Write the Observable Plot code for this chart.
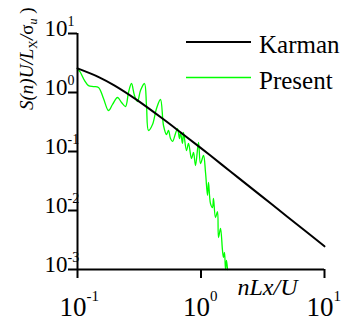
<!DOCTYPE html>
<html><head><meta charset="utf-8">
<script src="https://cdn.jsdelivr.net/npm/d3@7"></script>
<script src="https://cdn.jsdelivr.net/npm/@observablehq/plot@0.6"></script>
<style>html,body{margin:0;padding:0;background:#fff} svg{display:block}</style>
</head><body><div id="chart"></div>
<script>
// Karman spectrum
const karmanF = [0.1, 0.15, 0.2, 0.3, 0.5, 0.7, 1, 1.5, 2, 3, 5, 7, 10];
const karmanS = [2.56, 1.81, 1.31, 0.757, 0.348, 0.203, 0.114, 0.0582, 0.0361, 0.0184, 0.00786, 0.00449, 0.00247];

const presentF = [0.1, 0.1057, 0.1139, 0.1228, 0.1348, 0.1479, 0.1624, 0.1782, 0.192, 0.2108,
  0.2272, 0.2447, 0.2588, 0.2736, 0.2893, 0.306, 0.3236, 0.3486, 0.362, 0.3757,
  0.4049, 0.4362, 0.4699, 0.497, 0.5256, 0.5456, 0.5662, 0.5877, 0.6215, 0.6451,
  0.6697, 0.6823, 0.7082, 0.7215, 0.7633, 0.7923, 0.8377, 0.8696, 0.9027, 0.9546,
  0.991, 1.048, 1.088, 1.129, 1.15, 1.194, 1.239, 1.262, 1.31, 1.36,
  1.386, 1.439, 1.493, 1.521, 1.55, 1.579, 1.609, 1.639];
const presentS = [2.55, 2.18, 1.6, 1.31, 1.26, 1.22, 0.791, 0.495, 0.626, 0.823,
  0.677, 0.579, 1.0, 1.42, 0.89, 0.704, 1.08, 1.42, 0.602, 0.227,
  0.287, 0.536, 0.761, 0.276, 0.194, 0.227, 0.166, 0.148, 0.202, 0.245,
  0.166, 0.21, 0.137, 0.21, 0.104, 0.137, 0.0761, 0.0962, 0.0579, 0.142,
  0.0626, 0.0855, 0.0441, 0.018, 0.0298, 0.0131, 0.0112, 0.016, 0.0076, 0.0096,
  0.00348, 0.00496, 0.0021, 0.0016, 0.00194, 0.001, 0.00142, 0.001];

const xTicks = [0.1, 1, 10];
const xExp = ["-1", "0", "1"];
const yTicks = [0.001, 0.01, 0.1, 1, 10];
const yExp = ["-3", "-2", "-1", "0", "1"];
const seriesNames = ["Karman", "Present"];
const seriesColors = ["#000000", "#00ff00"];
const xLabel = "nLx/U";

const karman = karmanF.map((f, i) => ({f, s: karmanS[i]}));
const present = presentF.map((f, i) => ({f, s: presentS[i]}));

const serif = "Liberation Serif, Times New Roman, DejaVu Serif, serif";

const plot = Plot.plot({
  width: 342, height: 325,
  marginLeft: 77, marginRight: 18, marginTop: 33, marginBottom: 56,
  style: {fontFamily: serif, background: "white", color: "black", overflow: "visible"},
  x: {type: "log", domain: [0.1, 10]},
  y: {type: "log", domain: [0.001, 10]},
  marks: [
    Plot.axisX(xTicks, {tickSize: 9, strokeWidth: 2, tickFormat: () => "", label: null, stroke: "black"}),
    Plot.axisY(yTicks, {tickSize: 9, strokeWidth: 2, tickFormat: () => "", label: null, stroke: "black"}),
    Plot.line(present, {x: "f", y: "s", stroke: seriesColors[1], strokeWidth: 1.3, curve: "catmull-rom"}),
    Plot.line(karman, {x: "f", y: "s", stroke: seriesColors[0], strokeWidth: 2, curve: "catmull-rom"}),
    Plot.ruleX([0.1], {stroke: "black", strokeWidth: 2}),
    Plot.ruleY([0.001], {stroke: "black", strokeWidth: 2}),
    Plot.text(yTicks, {y: d => d, text: () => "10", frameAnchor: "left", textAnchor: "end", lineAnchor: "bottom", dx: -10, dy: 2, fontSize: 23, fontFamily: serif}),
    Plot.text(yTicks, {y: d => d, text: (d, i) => yExp[i], frameAnchor: "left", textAnchor: "start", lineAnchor: "bottom", dx: -10, dy: -8, fontSize: 14, fontFamily: serif}),
    Plot.text(xTicks, {x: d => d, text: () => "10", frameAnchor: "bottom", textAnchor: "end", lineAnchor: "bottom", dx: 9, dy: 46, fontSize: 27, fontFamily: serif}),
    Plot.text(xTicks, {x: d => d, text: (d, i) => xExp[i], frameAnchor: "bottom", textAnchor: "start", lineAnchor: "bottom", dx: 9, dy: 31, fontSize: 15, fontFamily: serif}),
    Plot.text([xLabel], {text: d => d, frameAnchor: "bottom", textAnchor: "start", lineAnchor: "bottom", dx: 36.5, dy: 25, fontSize: 24, fontStyle: "italic", fontFamily: serif})
  ]
});

const svg = d3.select(plot);
// legend
seriesNames.forEach((name, i) => {
  const yy = 42 + 35.5 * i;
  svg.append("line").attr("x1", 186).attr("x2", 251).attr("y1", yy).attr("y2", yy)
    .attr("stroke", seriesColors[i]).attr("stroke-width", i === 0 ? 2 : 1.3);
  svg.append("text").attr("x", 259).attr("y", yy + 11).attr("font-size", 25)
    .attr("text-anchor", "start").attr("font-family", serif).attr("fill", "black").text(name);
});
// y-axis label
const t = svg.append("text").attr("transform", "translate(33,110) rotate(-90)")
  .attr("text-anchor", "start").attr("font-size", 19).attr("font-family", serif).attr("fill", "black");
t.append("tspan").attr("font-style", "italic").text("S(n)U/L");
t.append("tspan").attr("font-size", 12).attr("dy", 4).text("X");
t.append("tspan").attr("dy", -4).attr("font-style", "italic").text("/");
t.append("tspan").text("σ");
t.append("tspan").attr("font-size", 12).attr("dy", 4).attr("font-style", "italic").text("u");
t.append("tspan").attr("dy", -4).text(" )");

document.getElementById("chart").appendChild(plot);
</script>
</body></html>
